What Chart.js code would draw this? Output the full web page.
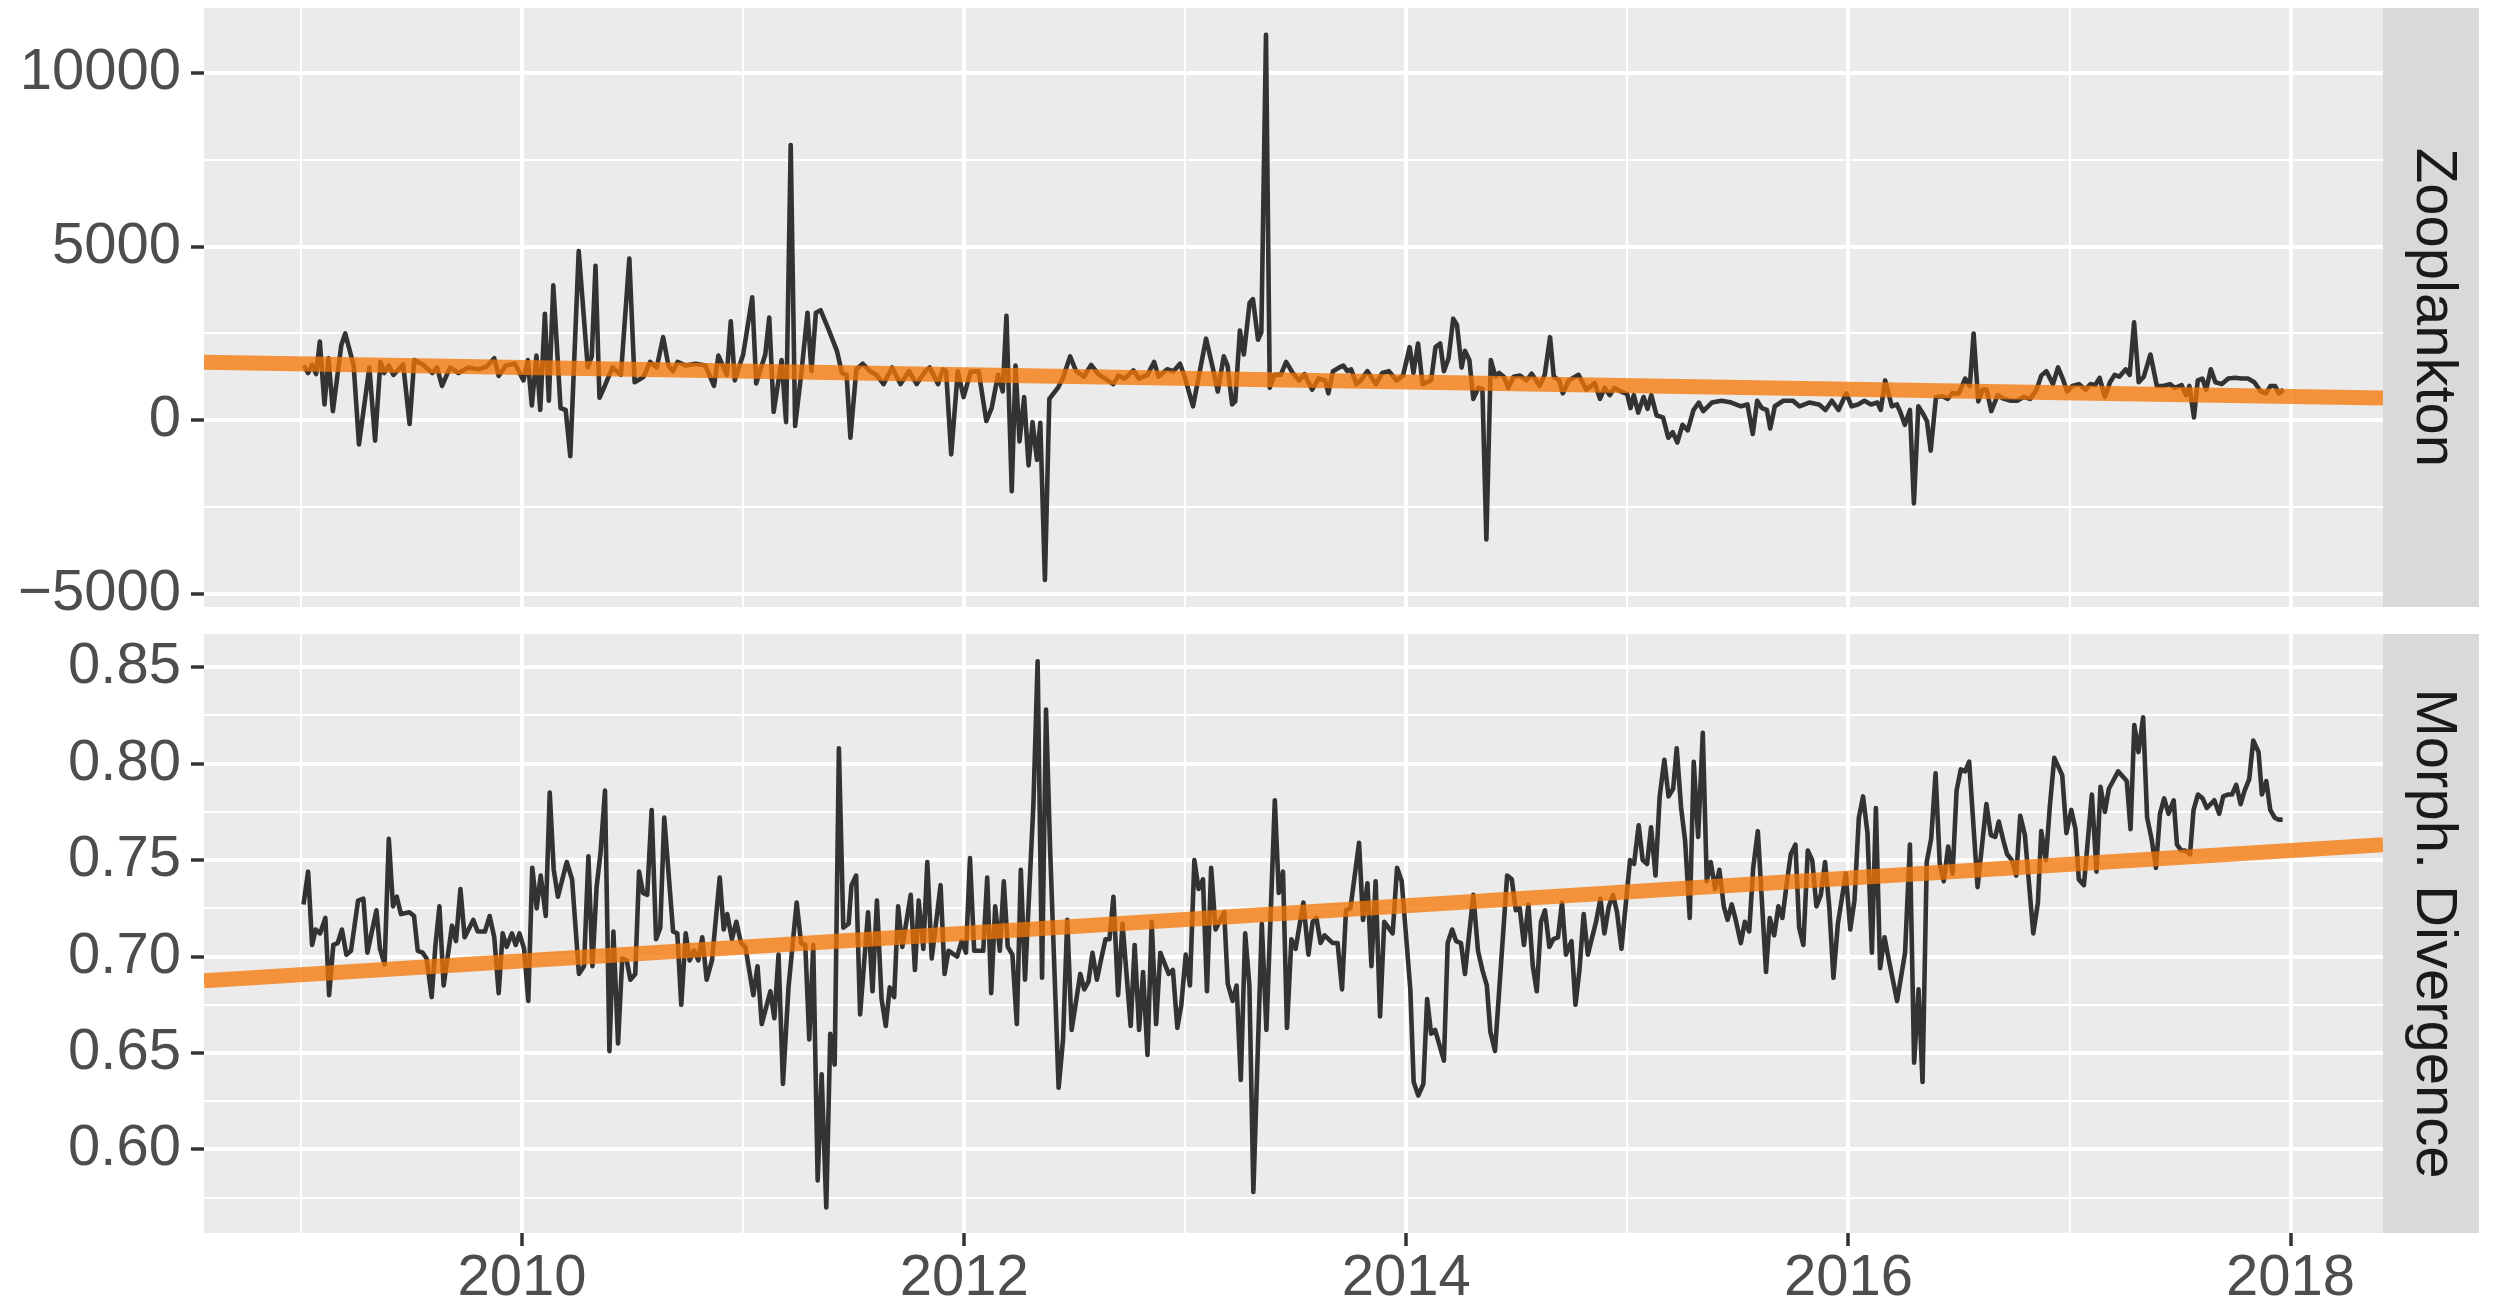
<!DOCTYPE html>
<html><head><meta charset="utf-8">
<script src="https://cdn.jsdelivr.net/npm/chart.js@4/dist/chart.umd.min.js"></script>
<style>
html,body{margin:0;padding:0;background:#ffffff;}
#wrap{position:relative;width:2501px;height:1307px;background:#ffffff;}
canvas{position:absolute;left:0;}
#cTop{top:0;}
#cBot{top:620px;}
</style></head><body>
<div id="wrap"><canvas id="cTop" width="2501" height="620"></canvas><canvas id="cBot" width="2501" height="687"></canvas></div>
<script>
// ---------- data ----------
const xLimits = [2008.561, 2018.418];
const xMajorYears = [2010, 2012, 2014, 2016, 2018];
const xMinorYears = [2009, 2011, 2013, 2015, 2017];
const panelLabels = ['Zooplankton', 'Morph. Divergence'];

const zooLimits = [-5374, 11870];
const zooMajorTicks = [-5000, 0, 5000, 10000];
const zooMinorTicks = [-2500, 2500, 7500];
const zooTrend = [1675, 645];

const divLimits = [0.5567, 0.8672];
const divMajorTicks = [0.60, 0.65, 0.70, 0.75, 0.80, 0.85];
const divMinorTicks = [0.575, 0.625, 0.675, 0.725, 0.775, 0.825];
const divTrend = [0.6875, 0.758];

const zooYears = [
2009.012,2009.032,2009.050,2009.068,2009.085,2009.106,2009.124,2009.144,2009.182,2009.200,
2009.238,2009.262,2009.309,2009.335,2009.359,2009.376,2009.397,2009.418,2009.462,2009.491,
2009.512,2009.550,2009.594,2009.615,2009.638,2009.674,2009.712,2009.756,2009.800,2009.838,
2009.874,2009.894,2009.926,2009.968,2010.006,2010.026,2010.044,2010.065,2010.082,2010.103,
2010.121,2010.141,2010.174,2010.197,2010.218,2010.256,2010.297,2010.315,2010.332,2010.350,
2010.374,2010.409,2010.447,2010.485,2010.509,2010.550,2010.579,2010.609,2010.638,2010.662,
2010.682,2010.703,2010.741,2010.785,2010.829,2010.868,2010.888,2010.926,2010.944,2010.962,
2011.000,2011.041,2011.059,2011.100,2011.118,2011.138,2011.174,2011.194,2011.215,2011.235,
2011.265,2011.291,2011.309,2011.329,2011.350,2011.388,2011.424,2011.447,2011.468,2011.485,
2011.512,2011.541,2011.574,2011.603,2011.635,2011.674,2011.712,2011.750,2011.785,2011.824,
2011.844,2011.882,2011.903,2011.918,2011.941,2011.971,2011.997,2012.029,2012.065,2012.100,
2012.124,2012.153,2012.174,2012.191,2012.215,2012.232,2012.250,2012.271,2012.291,2012.309,
2012.329,2012.344,2012.365,2012.385,2012.426,2012.447,2012.479,2012.506,2012.541,2012.574,
2012.609,2012.638,2012.674,2012.697,2012.726,2012.765,2012.791,2012.829,2012.859,2012.879,
2012.918,2012.947,2012.976,2012.997,2013.035,2013.094,2013.124,2013.147,2013.174,2013.191,
2013.212,2013.226,2013.247,2013.265,2013.291,2013.306,2013.329,2013.344,2013.365,2013.382,
2013.403,2013.432,2013.456,
2013.486,2013.515,2013.539,2013.574,2013.603,2013.633,2013.647,2013.668,2013.697,2013.715,
2013.733,2013.750,2013.774,2013.794,2013.824,2013.862,2013.891,2013.921,2013.956,2013.985,
2014.015,2014.032,2014.053,2014.073,2014.112,2014.132,2014.153,2014.170,2014.191,2014.212,
2014.229,2014.250,2014.265,2014.285,2014.303,2014.326,2014.344,2014.362,2014.382,2014.403,
2014.420,2014.441,2014.461,2014.485,2014.514,2014.544,2014.567,2014.603,2014.626,2014.650,
2014.667,2014.691,2014.708,2014.735,2014.779,2014.814,2014.852,2014.876,2014.897,2014.920,
2014.941,2014.970,2014.999,2015.014,2015.029,2015.049,2015.073,2015.091,2015.108,2015.132,
2015.161,2015.185,2015.205,2015.226,2015.249,2015.273,2015.299,2015.323,2015.343,2015.382,
2015.426,2015.470,2015.514,2015.543,2015.567,2015.587,2015.608,2015.631,2015.646,2015.667,
2015.705,2015.749,2015.778,2015.822,2015.867,2015.896,2015.925,2015.955,2015.990,2016.014,
2016.043,2016.072,2016.102,2016.131,2016.146,2016.166,2016.196,2016.219,2016.234,2016.255,
2016.278,2016.296,2016.316,2016.337,2016.355,2016.372,2016.396,2016.425,2016.449,2016.469,
2016.499,2016.528,2016.549,2016.566,2016.587,2016.607,2016.625,2016.646,2016.675,2016.704,
2016.734,2016.763,2016.793,2016.822,2016.851,2016.872,2016.895,2016.925,2016.948,2016.969,
2016.989,2017.013,2017.042,2017.072,2017.095,2017.116,2017.136,2017.160,2017.183,2017.204,
2017.225,2017.254,2017.272,2017.292,2017.313,2017.336,2017.366,2017.395,2017.424,2017.454,
2017.477,2017.507,2017.527,2017.542,2017.563,2017.580,2017.601,2017.618,2017.639,2017.660,
2017.689,2017.718,2017.748,2017.777,2017.807,2017.836,2017.865,2017.889,2017.909,2017.930,
2017.947,2017.968];

const zooValues = [
1575,1362,1596,1330,2266,457,1788,266,2160,2500,
1575,-692,1522,-585,1681,1362,1575,1309,1607,-106,
1734,1607,1362,1522,990,1522,1362,1522,1468,1543,
1788,1277,1575,1628,1149,1734,426,1862,298,3064,
564,3884,351,298,-1032,4873,1522,1841,4448,649,
990,1522,1309,4660,1096,1256,1681,1522,2394,1575,
1415,1681,1575,1628,1575,990,1862,1309,2851,1149,
1894,3543,1064,1894,2958,245,1734,-53,7927,-160,
1468,3096,1415,3096,3171,2586,2000,1362,1309,-500,
1468,1628,1415,1309,1043,1522,1043,1415,1043,1415,
1522,1043,1468,1415,-979,1415,670,1394,1415,-21,
351,1309,830,3011,-2043,1575,-606,670,-1298,-53,
-1138,-74,-4596,617,958,1224,1841,1415,1256,1596,
1309,1202,1043,1287,1202,1436,1202,1309,1681,1256,
1468,1415,1628,1256,404,2351,1522,830,1841,1575,
457,543,2586,1894,3383,3490,2320,2532,11097,936,
1309,1309,1681,
1362,1149,1330,883,1202,1149,777,1415,1522,1575,
1415,1468,1043,1149,1415,1043,1362,1415,1149,1287,
2107,1362,2213,1043,1149,2107,2213,1415,1788,2926,
2745,1522,2000,1734,617,936,904,-3426,1734,1256,
1362,1256,936,1256,1287,1149,1341,990,1309,2394,
1256,1149,777,1149,1309,883,1075,617,936,724,
936,830,755,351,724,223,670,330,724,138,
85,-500,-340,-638,-128,-287,298,511,266,511,
564,511,404,457,-394,564,351,298,-234,404,
564,564,404,511,457,298,564,298,777,404,
457,564,457,511,298,1149,404,457,245,-128,
298,-2394,404,192,-21,-872,670,692,617,777,
777,1202,990,2500,543,883,883,266,724,617,
564,564,670,617,883,1287,1415,1043,1522,1202,
830,990,1043,883,1043,1011,1224,670,1096,1309,
1256,1468,1309,2820,1096,1256,1894,990,990,1043,
936,1011,724,990,85,1149,1202,883,1468,1096,
1043,1202,1224,1202,1202,1096,830,777,990,990,
777,883];

const divYears = [
2009.011,2009.032,2009.050,2009.066,2009.086,2009.110,2009.127,2009.146,2009.166,2009.185,
2009.205,2009.226,2009.258,2009.282,2009.300,2009.341,2009.357,2009.378,2009.397,2009.416,
2009.433,2009.452,2009.490,2009.511,2009.528,2009.550,2009.568,2009.591,2009.608,2009.626,
2009.645,2009.683,2009.701,2009.721,2009.740,2009.779,2009.799,2009.832,2009.853,2009.874,
2009.894,2009.912,2009.930,2009.954,2009.971,2009.988,2010.009,2010.028,2010.046,2010.066,
2010.084,2010.107,2010.125,2010.143,2010.162,2010.202,2010.226,2010.257,2010.280,2010.300,
2010.318,2010.337,2010.355,2010.375,2010.395,2010.413,2010.434,2010.453,2010.473,2010.490,
2010.512,2010.529,2010.547,2010.566,2010.586,2010.606,2010.625,2010.643,2010.683,2010.702,
2010.720,2010.740,2010.758,2010.778,2010.797,2010.815,2010.835,2010.859,2010.894,2010.912,
2010.928,2010.949,2010.969,2010.990,2011.010,2011.046,2011.065,2011.084,2011.123,2011.141,
2011.160,2011.180,2011.205,2011.242,2011.262,2011.281,2011.299,2011.317,2011.337,2011.355,
2011.376,2011.394,2011.414,2011.433,2011.453,2011.477,2011.490,2011.511,2011.529,2011.565,
2011.585,2011.605,2011.626,2011.645,2011.663,2011.683,2011.701,2011.720,2011.758,2011.777,
2011.794,2011.815,2011.833,2011.853,2011.893,2011.911,2011.929,2011.968,2011.988,2012.008,
2012.026,2012.045,2012.086,2012.104,2012.122,2012.140,2012.161,2012.179,2012.197,2012.218,
2012.238,2012.256,2012.275,2012.313,2012.332,2012.352,2012.370,2012.389,2012.427,2012.447,
2012.466,2012.486,2012.525,2012.543,2012.562,2012.580,2012.600,2012.620,2012.639,2012.657,
2012.675,2012.696,2012.716,2012.753,2012.771,2012.791,2012.809,2012.829,2012.848,2012.868,
2012.887,2012.925,2012.944,2012.964,2012.982,2013.002,2013.021,2013.041,2013.060,2013.080,
2013.098,2013.117,2013.137,2013.176,2013.192,2013.214,2013.232,2013.251,2013.271,2013.290,
2013.308,2013.346,2013.367,2013.405,2013.423,2013.442,2013.460,2013.480,2013.499,2013.534,
2013.557,2013.576,2013.593,2013.612,2013.630,2013.667,2013.689,2013.709,2013.727,2013.747,
2013.786,2013.804,2013.824,2013.842,2013.861,2013.881,2013.900,2013.938,2013.958,2013.979,
2014.018,2014.033,2014.054,2014.077,2014.094,2014.112,2014.130,2014.170,2014.187,2014.207,
2014.225,2014.247,2014.265,2014.303,2014.324,2014.344,2014.364,2014.380,2014.401,2014.456,
2014.477,2014.495,2014.513,2014.532,2014.552,2014.572,2014.590,2014.609,2014.627,2014.647,
2014.665,2014.686,2014.704,2014.722,2014.747,2014.765,2014.783,2014.802,2014.821,2014.858,
2014.878,2014.896,2014.916,2014.935,2014.953,2014.973,2015.012,2015.030,2015.051,2015.069,
2015.089,2015.107,2015.127,2015.146,2015.167,2015.186,2015.207,2015.223,2015.243,2015.261,
2015.282,2015.300,2015.320,2015.341,2015.359,2015.377,2015.397,2015.416,2015.436,2015.453,
2015.472,2015.490,2015.513,2015.531,2015.551,2015.569,2015.590,2015.627,2015.644,2015.664,
2015.683,2015.701,2015.721,2015.739,2015.760,2015.777,2015.796,2015.816,2015.836,2015.855,
2015.875,2015.894,2015.913,2015.932,2015.952,2015.988,2016.008,2016.027,2016.047,2016.066,
2016.086,2016.106,2016.124,2016.143,2016.163,2016.183,2016.220,2016.256,2016.278,2016.297,
2016.317,2016.335,2016.354,2016.374,2016.394,2016.413,2016.431,2016.451,2016.471,2016.489,
2016.508,2016.528,2016.546,2016.584,2016.624,2016.644,2016.664,2016.680,2016.701,2016.718,
2016.739,2016.759,2016.777,2016.798,2016.836,2016.857,2016.872,2016.893,2016.911,2016.931,
2016.967,2016.986,2017.008,2017.027,2017.042,2017.065,2017.101,2017.122,2017.140,2017.160,
2017.178,2017.220,2017.259,2017.276,2017.293,2017.312,2017.333,2017.351,2017.371,2017.391,
2017.409,2017.428,2017.448,2017.471,2017.486,2017.505,2017.523,2017.545,2017.561,2017.581,
2017.602,2017.621,2017.655,2017.677,2017.695,2017.716,2017.735,2017.754,2017.774,2017.792,
2017.813,2017.831,2017.855,2017.870,2017.890,2017.908,2017.928,2017.944,2017.964];

const divValues = [
0.727,0.744,0.706,0.714,0.712,0.720,0.680,0.706,0.707,0.714,
0.701,0.703,0.729,0.730,0.702,0.724,0.704,0.696,0.761,0.726,
0.731,0.722,0.723,0.721,0.703,0.702,0.699,0.679,0.706,0.726,
0.685,0.716,0.708,0.735,0.710,0.719,0.713,0.713,0.721,0.710,
0.681,0.712,0.705,0.712,0.706,0.712,0.704,0.677,0.746,0.725,
0.742,0.721,0.785,0.745,0.731,0.749,0.740,0.691,0.695,0.752,
0.695,0.736,0.754,0.786,0.651,0.713,0.655,0.699,0.698,0.688,
0.691,0.744,0.733,0.732,0.776,0.709,0.715,0.772,0.713,0.712,
0.675,0.712,0.698,0.703,0.698,0.710,0.688,0.698,0.741,0.714,
0.722,0.709,0.718,0.707,0.705,0.680,0.695,0.665,0.682,0.668,
0.701,0.634,0.684,0.728,0.707,0.706,0.657,0.706,0.584,0.639,
0.570,0.660,0.644,0.808,0.715,0.717,0.737,0.742,0.670,0.723,
0.682,0.729,0.678,0.664,0.684,0.679,0.726,0.705,0.732,0.693,
0.729,0.704,0.749,0.699,0.737,0.691,0.703,0.700,0.708,0.702,
0.751,0.703,0.703,0.741,0.681,0.726,0.703,0.739,0.705,0.701,
0.665,0.745,0.688,0.779,0.853,0.689,0.828,0.754,0.632,0.657,
0.719,0.662,0.691,0.683,0.687,0.702,0.688,0.699,0.709,0.709,
0.731,0.680,0.717,0.664,0.706,0.662,0.692,0.649,0.718,0.665,
0.702,0.691,0.693,0.663,0.675,0.701,0.685,0.750,0.735,0.740,
0.682,0.746,0.714,0.723,0.686,0.677,0.685,0.636,0.712,0.685,
0.578,0.717,0.662,0.781,0.733,0.744,0.663,0.709,0.704,0.728,
0.701,0.718,0.720,0.707,0.711,0.707,0.707,0.683,0.724,0.725,
0.759,0.719,0.738,0.695,0.739,0.669,0.718,0.712,0.746,0.739,
0.683,0.635,0.628,0.634,0.678,0.660,0.662,0.646,0.707,0.714,
0.708,0.707,0.691,0.732,0.703,0.693,0.685,0.661,0.651,0.742,
0.740,0.724,0.725,0.706,0.727,0.695,0.682,0.718,0.724,0.705,
0.709,0.710,0.728,0.701,0.708,0.675,0.693,0.722,0.701,0.718,
0.730,0.712,0.726,0.732,0.723,0.704,0.750,0.748,0.768,0.750,
0.748,0.767,0.742,0.783,0.802,0.783,0.787,0.808,0.777,0.760,
0.720,0.801,0.762,0.816,0.739,0.749,0.735,0.745,0.726,0.719,
0.727,0.719,0.707,0.718,0.713,0.746,0.765,0.692,0.720,0.711,
0.726,0.720,0.738,0.753,0.758,0.715,0.706,0.755,0.750,0.726,
0.732,0.749,0.726,0.689,0.717,0.743,0.714,0.729,0.772,0.783,
0.764,0.702,0.777,0.694,0.710,0.698,0.677,0.702,0.758,0.645,
0.683,0.635,0.749,0.761,0.795,0.748,0.739,0.757,0.743,0.786,
0.797,0.796,0.801,0.736,0.779,0.763,0.762,0.770,0.760,0.753,
0.750,0.742,0.773,0.763,0.712,0.728,0.765,0.750,0.778,0.803,
0.794,0.764,0.776,0.766,0.740,0.737,0.784,0.744,0.788,0.775,
0.787,0.796,0.791,0.766,0.820,0.806,0.824,0.772,0.761,0.746,
0.774,0.782,0.774,0.781,0.758,0.755,0.755,0.753,0.776,0.784,
0.782,0.777,0.781,0.774,0.783,0.784,0.784,0.789,0.779,0.786,
0.792,0.812,0.806,0.784,0.791,0.776,0.772,0.771,0.771];

// ---------- styling ----------
const FONT = '"Liberation Sans", Arial, Helvetica, sans-serif';
const FONT_SIZE = 58;
const PANEL_BG = '#EBEBEB';
const STRIP_BG = '#D9D9D9';
const STRIP_W = 96;
const Y_AXIS_W = 204;
const RIGHT_PAD = 2501 - 2383;
const LINE_COLOR = '#333333';
const TREND_COLOR = 'rgba(245,119,4,0.77)';

Chart.defaults.font.family = FONT;

function has(list, v) { return list.some(m => Math.abs(m - v) < 1e-9); }

const facetPlugin = {
  id: 'facet',
  beforeDraw(chart, args, opts) {
    const a = chart.chartArea, ctx = chart.ctx;
    ctx.save();
    ctx.fillStyle = PANEL_BG;
    ctx.fillRect(a.left, a.top, a.right - a.left, a.bottom - a.top);
    ctx.fillStyle = STRIP_BG;
    ctx.fillRect(a.right, a.top, STRIP_W, a.bottom - a.top);
    ctx.translate(a.right + 50, (a.top + a.bottom) / 2);
    ctx.rotate(Math.PI / 2);
    ctx.fillStyle = '#1A1A1A';
    ctx.font = FONT_SIZE + 'px ' + FONT;
    ctx.textAlign = 'center';
    ctx.textBaseline = 'middle';
    ctx.fillText(opts.label, 0, 0);
    ctx.restore();
  }
};

function makePanel(canvasId, years, values, trend, limits, majors, minors, fmt, label, showX, padTop, xHeight) {
  const allY = majors.concat(minors).sort((a, b) => a - b);
  const allX = xMajorYears.concat(xMinorYears).sort((a, b) => a - b);
  return new Chart(document.getElementById(canvasId), {
    type: 'line',
    data: {
      datasets: [
        {
          data: [{x: xLimits[0], y: trend[0]}, {x: xLimits[1], y: trend[1]}],
          borderColor: TREND_COLOR, borderWidth: 15, pointRadius: 0,
          borderCapStyle: 'butt', tension: 0, fill: false, clip: 0, order: 0
        },
        {
          data: years.map((x, i) => ({x: x, y: values[i]})),
          borderColor: LINE_COLOR, borderWidth: 4.6, pointRadius: 0,
          borderJoinStyle: 'round', tension: 0, fill: false, clip: 0, order: 1
        }
      ]
    },
    options: {
      responsive: false, animation: false, devicePixelRatio: 1, events: [],
      layout: { padding: { top: padTop, right: RIGHT_PAD, left: 0, bottom: 0 } },
      plugins: { legend: { display: false }, tooltip: { enabled: false }, facet: { label: label } },
      scales: {
        x: {
          type: 'linear', min: xLimits[0], max: xLimits[1],
          afterBuildTicks: s => { s.ticks = allX.map(v => ({value: v})); },
          afterFit: s => { s.height = xHeight; s.paddingLeft = 0; s.paddingRight = 0; },
          border: { display: false },
          grid: {
            color: '#FFFFFF',
            lineWidth: c => (c.tick && has(xMajorYears, c.tick.value)) ? 4 : 2,
            drawTicks: showX, tickLength: 13,
            tickColor: c => (c.tick && has(xMajorYears, c.tick.value)) ? '#333333' : 'rgba(0,0,0,0)',
            tickWidth: c => (c.tick && has(xMajorYears, c.tick.value)) ? 3.5 : 0
          },
          ticks: {
            display: showX, autoSkip: false, maxRotation: 0, minRotation: 0, padding: 1,
            color: '#4D4D4D', font: { size: FONT_SIZE, lineHeight: 1.1 },
            callback: v => has(xMajorYears, v) ? String(v) : ''
          }
        },
        y: {
          type: 'linear', min: limits[0], max: limits[1],
          afterBuildTicks: s => { s.ticks = allY.map(v => ({value: v})); },
          afterFit: s => { s.width = Y_AXIS_W; s.paddingTop = 0; s.paddingBottom = 0; },
          border: { display: false },
          grid: {
            color: '#FFFFFF',
            lineWidth: c => (c.tick && has(majors, c.tick.value)) ? 4 : 2,
            drawTicks: true, tickLength: 13,
            tickColor: c => (c.tick && has(majors, c.tick.value)) ? '#333333' : 'rgba(0,0,0,0)',
            tickWidth: c => (c.tick && has(majors, c.tick.value)) ? 3.5 : 0
          },
          ticks: {
            autoSkip: false, padding: 10, color: '#4D4D4D',
            font: { size: FONT_SIZE, lineHeight: 1.1 },
            callback: v => has(majors, v) ? fmt(v) : ''
          }
        }
      }
    },
    plugins: [facetPlugin]
  });
}

makePanel('cTop', zooYears, zooValues, zooTrend, zooLimits, zooMajorTicks, zooMinorTicks,
  v => (v < 0 ? '\u2212' + Math.abs(v) : String(v)), panelLabels[0], false, 8, 13);
makePanel('cBot', divYears, divValues, divTrend, divLimits, divMajorTicks, divMinorTicks,
  v => v.toFixed(2), panelLabels[1], true, 14, 74);
</script>
</body></html>
